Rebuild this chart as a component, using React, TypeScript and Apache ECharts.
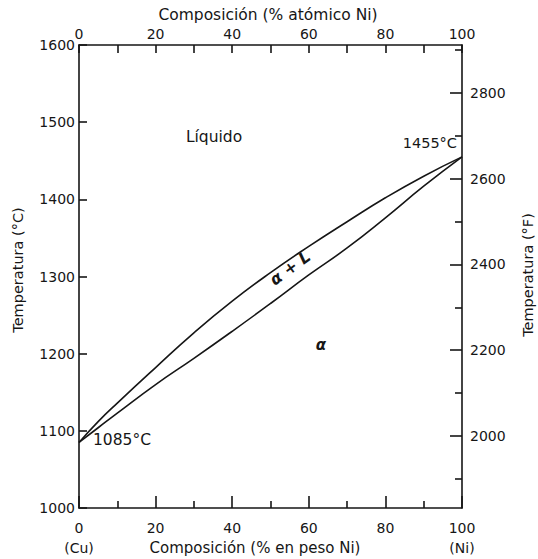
import React, { useEffect, useRef } from "react";
import * as echarts from "echarts";

// Composition (wt% Ni) and phase boundaries (°C)
const compositionWt = [0, 5, 10, 20, 30, 40, 50, 60, 70, 80, 90, 100];
const liquidusC = [1085, 1112, 1136, 1182, 1227, 1268, 1305, 1339, 1371, 1402, 1430, 1455];
const solidusC = [1085, 1104, 1123, 1160, 1194, 1229, 1265, 1302, 1337, 1376, 1417, 1455];

// Axis ranges and ticks
const tempMinC = 1000;
const tempMaxC = 1600;
const fahrenheitLabels = [2000, 2200, 2400, 2600, 2800];
const fahrenheitMinorTicks = [1900, 2100, 2300, 2500, 2700, 2900];

const toF = (c: number) => (c * 9) / 5 + 32;

const FONT = "DejaVu Sans";
const INK = "#161616";

export default function App() {
  const ref = useRef<HTMLDivElement>(null);

  useEffect(() => {
    if (!ref.current) return;
    const chart = echarts.init(ref.current, null, { renderer: "svg" });

    const liquidus = compositionWt.map((w, i) => [w, liquidusC[i]]);
    const solidus = compositionWt.map((w, i) => [w, solidusC[i]]);

    const txt = (
      text: string,
      x: number,
      y: number,
      opts: { align?: string; rotation?: number; size?: number; style?: string; weight?: string } = {}
    ) => ({
      type: "text",
      x,
      y,
      rotation: opts.rotation || 0,
      style: {
        text,
        fill: INK,
        fontFamily: FONT,
        fontSize: opts.size || 14,
        fontStyle: opts.style || "normal",
        fontWeight: opts.weight || "normal",
        align: opts.align || "center",
        verticalAlign: "middle",
        textAlign: opts.align || "center",
        textVerticalAlign: "middle",
      },
    });

    const axisLineStyle = { color: INK, width: 1.6 };
    const plain = (v: number) => String(v);

    chart.setOption({
      animation: false,
      textStyle: { fontFamily: FONT, color: INK },
      grid: { left: 79, right: 76, top: 45, bottom: 51 },
      xAxis: [
        {
          type: "value",
          position: "bottom",
          min: 0,
          max: 100,
          interval: 20,
          axisLine: { onZero: false, lineStyle: axisLineStyle },
          axisTick: { inside: true, length: 12, lineStyle: axisLineStyle },
          minorTick: { show: true, splitNumber: 2, length: 7, lineStyle: axisLineStyle },
          splitLine: { show: false },
          axisLabel: {
            color: INK,
            fontFamily: FONT,
            fontSize: 14,
            margin: 10,
            lineHeight: 20,
            formatter: (v: number) =>
              v === 0 ? "0\n(Cu)" : v === 100 ? "100\n(Ni)" : String(v),
          },
        },
        {
          type: "value",
          position: "top",
          min: 0,
          max: 100,
          interval: 20,
          axisLine: { onZero: false, lineStyle: axisLineStyle },
          axisTick: { inside: true, length: 8, lineStyle: axisLineStyle },
          minorTick: { show: true, splitNumber: 2, length: 8, lineStyle: axisLineStyle },
          splitLine: { show: false },
          axisLabel: { color: INK, fontFamily: FONT, fontSize: 14, margin: 4, formatter: plain },
        },
      ],
      yAxis: [
        {
          type: "value",
          position: "left",
          min: tempMinC,
          max: tempMaxC,
          interval: 100,
          axisLine: { onZero: false, lineStyle: axisLineStyle },
          axisTick: { inside: true, length: 8, lineStyle: axisLineStyle },
          splitLine: { show: false },
          axisLabel: { color: INK, fontFamily: FONT, fontSize: 14, margin: 4, formatter: plain },
        },
        {
          type: "value",
          position: "right",
          min: toF(tempMinC),
          max: toF(tempMaxC),
          axisLine: { show: true, onZero: false, lineStyle: axisLineStyle },
          axisTick: {
            show: true,
            inside: true,
            length: 12,
            customValues: fahrenheitLabels,
            lineStyle: axisLineStyle,
          },
          splitLine: { show: false },
          axisLabel: {
            color: INK,
            fontFamily: FONT,
            fontSize: 14,
            margin: 8,
            customValues: fahrenheitLabels,
            formatter: plain,
          },
        },
        {
          type: "value",
          position: "right",
          min: toF(tempMinC),
          max: toF(tempMaxC),
          axisLine: { show: false, onZero: false },
          axisTick: {
            show: true,
            inside: true,
            length: 7,
            customValues: fahrenheitMinorTicks,
            lineStyle: axisLineStyle,
          },
          splitLine: { show: false },
          axisLabel: { show: false },
        },
      ],
      series: [
        {
          name: "Liquidus",
          type: "line",
          xAxisIndex: 0,
          yAxisIndex: 0,
          data: liquidus,
          smooth: 0.5,
          symbol: "none",
          lineStyle: { color: INK, width: 1.6 },
        },
        {
          name: "Solidus",
          type: "line",
          xAxisIndex: 0,
          yAxisIndex: 0,
          data: solidus,
          smooth: 0.5,
          symbol: "none",
          lineStyle: { color: INK, width: 1.6 },
        },
      ],
      graphic: [
        txt("Composición (% atómico Ni)", 268, 15, { size: 15.5 }),
        txt("Composición (% en peso Ni)", 255, 548, { size: 15 }),
        txt("Temperatura (°C)", 18, 270, { rotation: Math.PI / 2, size: 14.5 }),
        txt("Temperatura (°F)", 528, 275, { rotation: Math.PI / 2, size: 14.5 }),
        txt("Líquido", 214, 137, { size: 15.5 }),
        txt("1455°C", 457, 143, { align: "right", size: 14.5 }),
        txt("1085°C", 93, 440, { align: "left", size: 15.5 }),
        txt("α + L", 290, 268, { rotation: (36 * Math.PI) / 180, style: "italic", weight: "bold", size: 16 }),
        txt("α", 321, 345, { style: "italic", weight: "bold", size: 15 }),
      ],
    });

    return () => chart.dispose();
  }, []);

  return <div ref={ref} style={{ width: 538, height: 559, position: "absolute", left: 0, top: 0, background: "#fff" }} />;
}
